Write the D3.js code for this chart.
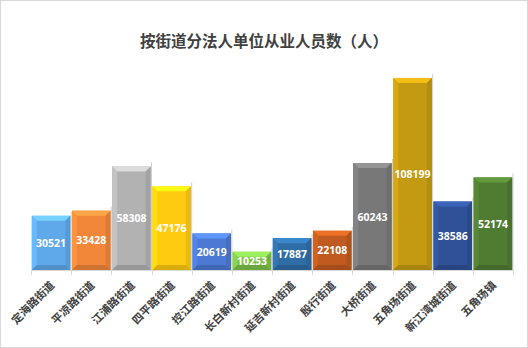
<!DOCTYPE html>
<html>
<head>
<meta charset="utf-8">
<script src="https://cdn.jsdelivr.net/npm/d3@7/dist/d3.min.js"></script>
<style>
  html, body { margin: 0; padding: 0; background: #fff; }
  svg { display: block; }
</style>
</head>
<body>
<svg id="chart" width="528" height="348"></svg>
<script>
// Employed persons of legal-entity units, by sub-district
const categories = ["定海路街道", "平凉路街道", "江浦路街道", "四平路街道", "控江路街道", "长白新村街道",
                    "延吉新村街道", "殷行街道", "大桥街道", "五角场街道", "新江湾城街道", "五角场镇"];
const values = [30521, 33428, 58308, 47176, 20619, 10253, 17887, 22108, 60243, 108199, 38586, 52174];
const barColors = ["#5fa9ea", "#f2873a", "#b2b2b2", "#ffcb10", "#4b79d3", "#7fc24b",
                   "#2f6da6", "#c05a1f", "#787878", "#c49a12", "#2f5196", "#507c32"];
const title = "按街道分法人单位从业人员数（人）";

const W = 528, H = 348;
const svg = d3.select("#chart");

// outer frame
svg.append("rect").attr("x", 0.5).attr("y", 0.5).attr("width", W - 1).attr("height", H - 1)
  .attr("fill", "#fff").attr("stroke", "#d9d9d9");

svg.append("text").attr("x", 264).attr("y", 47).attr("text-anchor", "middle")
  .attr("font-family", "'Noto Sans CJK SC', sans-serif").attr("font-weight", "bold")
  .attr("font-size", 15.5).attr("fill", "#404040").text(title);

const x = d3.scaleBand().domain(categories).range([31, 513]).paddingInner(0.04).paddingOuter(0.02);
const y = d3.scaleLinear().domain([0, 120000]).range([270, 57]);

// bevelled bars
const bev = 5;
const g = svg.append("g");
categories.forEach((c, i) => {
  const x0 = x(c), x1 = x0 + x.bandwidth();
  const y0 = y(values[i]), y1 = y(0);
  const base = d3.color(barColors[i]);
  const bar = g.append("g");
  // faint backing edge on the right
  bar.append("line").attr("x1", x1 + 0.8).attr("x2", x1 + 0.8).attr("y1", y0 - 4).attr("y2", y1)
    .attr("stroke", "#d0d0d0").attr("stroke-width", 1);
  bar.append("rect").attr("x", x0).attr("y", y0).attr("width", x1 - x0).attr("height", y1 - y0)
    .attr("fill", base.formatHex());
  const poly = (pts, col) => bar.append("polygon")
    .attr("points", pts.map(p => p.join(",")).join(" ")).attr("fill", col);
  const b = Math.min(bev, (y1 - y0) / 2);
  poly([[x0, y0], [x1, y0], [x1 - bev, y0 + b], [x0 + bev, y0 + b]], base.brighter(0.6).formatHex());
  poly([[x0, y0], [x0 + bev, y0 + b], [x0 + bev, y1 - b], [x0, y1]], base.brighter(0.25).formatHex());
  poly([[x1, y0], [x1 - bev, y0 + b], [x1 - bev, y1 - b], [x1, y1]], base.darker(0.25).formatHex());
  poly([[x0, y1], [x0 + bev, y1 - b], [x1 - bev, y1 - b], [x1, y1]], base.darker(0.45).formatHex());

  bar.append("text").attr("x", (x0 + x1) / 2).attr("y", (y0 + y1) / 2 + 4)
    .attr("text-anchor", "middle").attr("font-family", "'Noto Sans', sans-serif")
    .attr("font-weight", "bold").attr("font-size", 10.5).attr("fill", "#fff")
    .text(values[i]);
});

// category axis
const axis = svg.append("g");
axis.append("line").attr("x1", 31).attr("x2", 513).attr("y1", 270.5).attr("y2", 270.5)
  .attr("stroke", "#d9d9d9");
d3.range(categories.length + 1).forEach(k => {
  const xx = Math.round(31 + k * (482 / categories.length)) + 0.5;
  axis.append("line").attr("x1", xx).attr("x2", xx).attr("y1", 270).attr("y2", 275)
    .attr("stroke", "#d9d9d9");
});
categories.forEach(c => {
  const cx = x(c) + x.bandwidth() / 2 + 4;
  axis.append("text").attr("transform", `translate(${cx},286) rotate(-45)`)
    .attr("text-anchor", "end").attr("font-family", "'Noto Sans CJK SC', sans-serif")
    .attr("font-weight", "bold").attr("font-size", 11).attr("fill", "#404040").text(c);
});
</script>
</body>
</html>
